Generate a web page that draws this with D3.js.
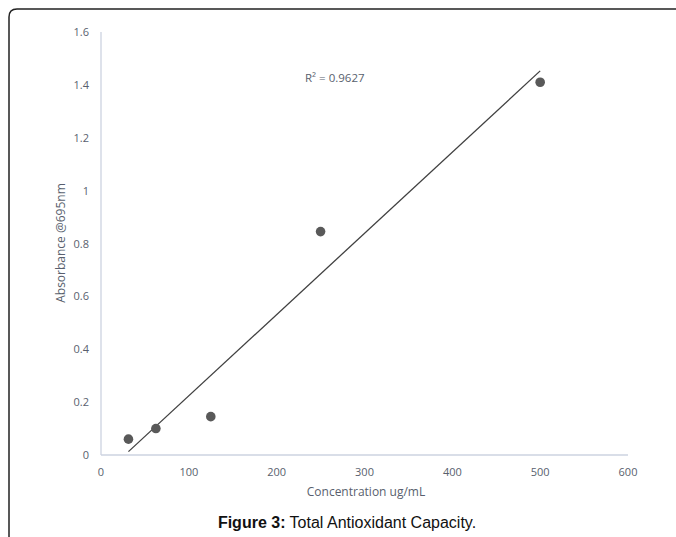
<!DOCTYPE html>
<html>
<head>
<meta charset="utf-8">
<script src="https://cdn.jsdelivr.net/npm/d3@7"></script>
<style>
  body { margin: 0; background: #fff; }
  svg { display: block; }
</style>
</head>
<body>
<div id="chart"></div>
<script>
const width = 676;
const height = 537;

// data
const concentration = [31.25, 62.5, 125, 250, 500];
const absorbance = [0.06, 0.10, 0.145, 0.845, 1.41];
const xTicks = [0, 100, 200, 300, 400, 500, 600];
const yTicks = [0, 0.2, 0.4, 0.6, 0.8, 1, 1.2, 1.4, 1.6];
const rSquared = "0.9627";

const textColor = "#595f6e";
const axisColor = "#ccd3e0";
const font = "'Open Sans', sans-serif";

const svg = d3.select("#chart")
  .append("svg")
  .attr("width", width)
  .attr("height", height);

// frame (open at right and bottom)
svg.append("path")
  .attr("d", `M9,${height} L9,17 Q9,9 17,9 L${width},9`)
  .attr("fill", "none")
  .attr("stroke", "#222")
  .attr("stroke-width", 1.5);

const x = d3.scaleLinear().domain([0, 600]).range([101, 628]);
const y = d3.scaleLinear().domain([0, 1.6]).range([455, 32]);

// axis lines
svg.append("line")
  .attr("x1", x(0)).attr("x2", x(600))
  .attr("y1", y(0)).attr("y2", y(0))
  .attr("stroke", axisColor).attr("stroke-width", 1.3);
svg.append("line")
  .attr("x1", x(0)).attr("x2", x(0))
  .attr("y1", y(0)).attr("y2", y(1.6))
  .attr("stroke", axisColor).attr("stroke-width", 1.3);

// tick labels
svg.selectAll(".xt")
  .data(xTicks)
  .enter()
  .append("text")
  .attr("x", d => x(d))
  .attr("y", 476)
  .attr("text-anchor", "middle")
  .attr("fill", textColor)
  .style("font-family", font)
  .style("font-size", "11px")
  .text(d => d);

svg.selectAll(".yt")
  .data(yTicks)
  .enter()
  .append("text")
  .attr("x", 89)
  .attr("y", d => y(d) + 4)
  .attr("text-anchor", "end")
  .attr("fill", textColor)
  .style("font-family", font)
  .style("font-size", "11px")
  .text(d => d);

// axis titles
svg.append("text")
  .attr("x", 366)
  .attr("y", 496)
  .attr("text-anchor", "middle")
  .attr("fill", textColor)
  .style("font-family", font)
  .style("font-size", "12px")
  .text("Concentration ug/mL");

svg.append("text")
  .attr("transform", "translate(65, 243) rotate(-90)")
  .attr("text-anchor", "middle")
  .attr("fill", textColor)
  .style("font-family", font)
  .style("font-size", "12px")
  .text("Absorbance @695nm");

// linear trendline (least squares)
const mx = d3.mean(concentration);
const my = d3.mean(absorbance);
const sxy = d3.sum(concentration, (c, i) => (c - mx) * (absorbance[i] - my));
const sxx = d3.sum(concentration, c => (c - mx) * (c - mx));
const slope = sxy / sxx;
const intercept = my - slope * mx;
const xEnds = d3.extent(concentration);

svg.append("line")
  .attr("x1", x(xEnds[0])).attr("y1", y(intercept + slope * xEnds[0]))
  .attr("x2", x(xEnds[1])).attr("y2", y(intercept + slope * xEnds[1]))
  .attr("stroke", "#404040")
  .attr("stroke-width", 1.3);

// points
svg.selectAll(".pt")
  .data(concentration)
  .enter()
  .append("circle")
  .attr("cx", d => x(d))
  .attr("cy", (d, i) => y(absorbance[i]))
  .attr("r", 4.8)
  .attr("fill", "#595959");

svg.append("text")
  .attr("x", 305)
  .attr("y", 82)
  .attr("fill", textColor)
  .style("font-family", font)
  .style("font-size", "11.5px")
  .text("R² = " + rSquared);

// caption
const cap = svg.append("text")
  .attr("x", 347)
  .attr("y", 528)
  .attr("text-anchor", "middle")
  .attr("fill", "#111")
  .style("font-family", "'Liberation Sans', Arial, sans-serif")
  .style("font-size", "16px");
cap.append("tspan").style("font-weight", "bold").text("Figure 3:");
cap.append("tspan").text(" Total Antioxidant Capacity.");
</script>
</body>
</html>
